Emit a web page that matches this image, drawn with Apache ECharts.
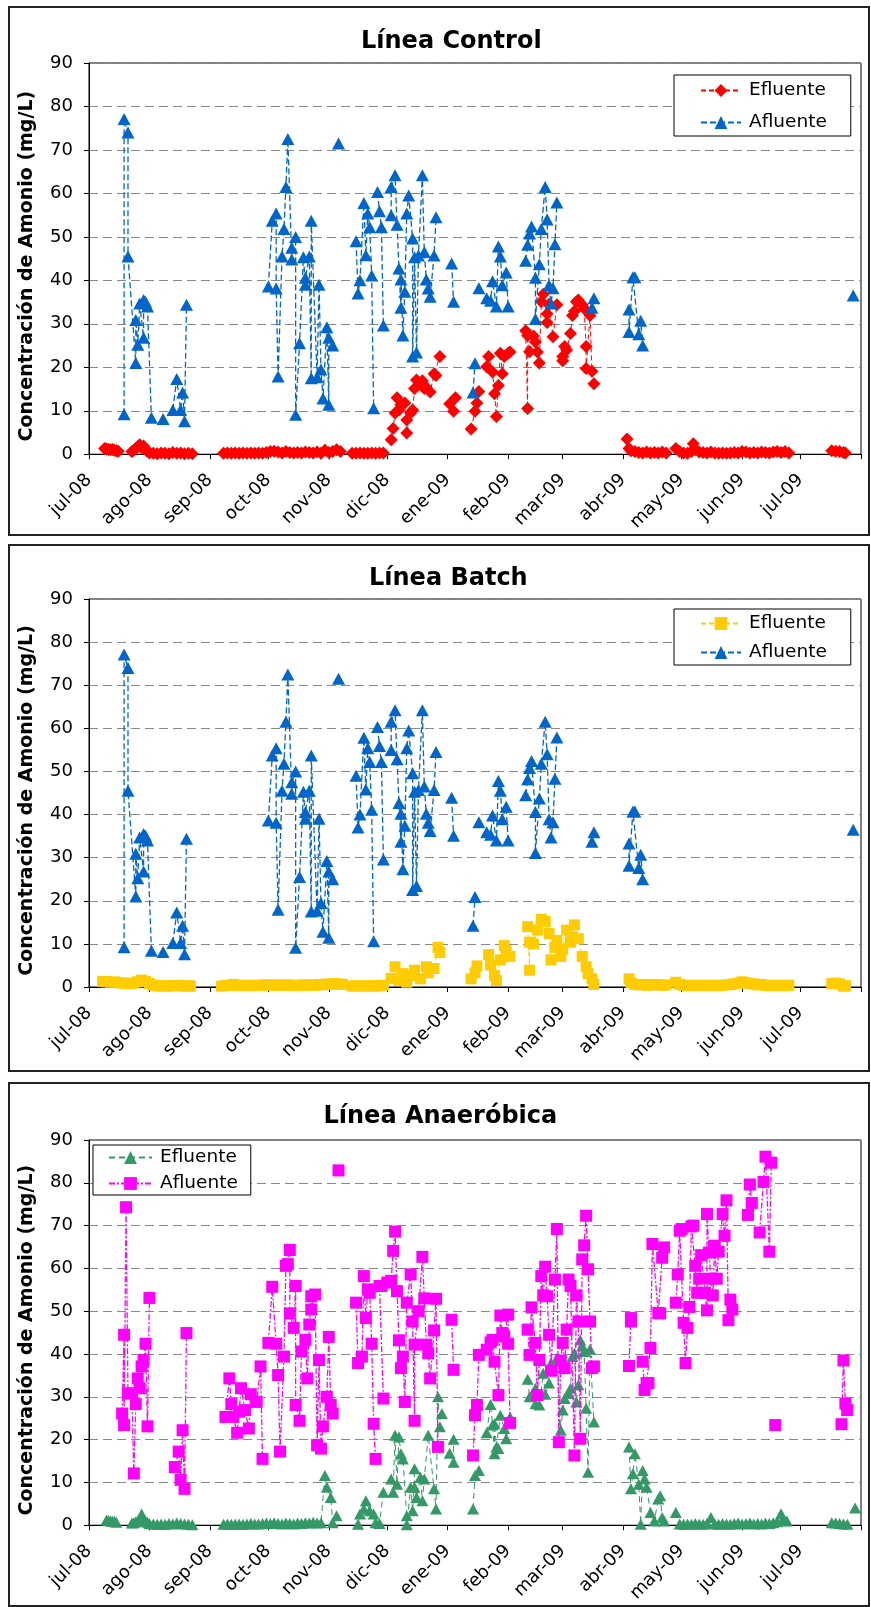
<!DOCTYPE html>
<html><head><meta charset="utf-8">
<script src="https://cdn.jsdelivr.net/npm/echarts@6/dist/echarts.min.js"></script>
<style>
body{margin:0;background:#fff;width:871px;height:1607px;position:relative;overflow:hidden}
.panel{position:absolute;left:8px;width:862px;box-sizing:border-box;border:2px solid #222;background:#fff}
</style></head><body>
<div id="p1" class="panel" style="top:6px;height:530px"></div>
<div id="p2" class="panel" style="top:544px;height:528px"></div>
<div id="p3" class="panel" style="top:1082px;height:525px"></div>
<script>
// x values are days counted from 2008-07-01 (the left end of the date axis); null = gap in the line
const X_TICK_LABELS = ['jul-08','ago-08','sep-08','oct-08','nov-08','dic-08','ene-09','feb-09','mar-09','abr-09','may-09','jun-09','jul-09'];
const Y_TICKS = [0,10,20,30,40,50,60,70,80,90];
const TITLES = ['Línea Control','Línea Batch','Línea Anaeróbica'];
const SERIES_NAMES = ['Efluente','Afluente'];

const afluenteControlBatch = [
 [18,9.2],[18,77.1],[20,74],[20,45.5],[24,21.0],[24,30.9],[25,25.2],[26,34.7],[28,26.8],[28,35.5],[29,35.1],[30,34.0],[32,8.4],null,
 [38,8.1],null,
 [43,10.2],[45,17.3],[47,10.2],[48,14.2],[49,7.6],[50,34.4],null,
 [92,38.6],[94,53.7],[96,55.4],[96,38.1],[97,17.9],[99,45.5],[100,51.8],[101,61.5],[102,72.5],[104,44.8],[104,47.5],[106,50.0],[106,9.1],[108,25.5],[110,45.3],[111,39.0],[111,40.6],[113,45.5],[114,17.5],[114,53.7],[117,17.7],[118,39.0],[119,19.5],[120,12.8],[122,29.2],[123,11.4],[123,26.8],[125,25.0],null,
 [128,71.5],null,
 [137,49.0],[138,37.0],[139,40.0],[141,57.8],[142,45.8],[143,55.4],[144,52.2],[145,41.1],[146,10.6],null,
 [148,60.3],[149,55.9],[150,52.2],[151,29.6],null,
 [155,55.0],[155,61.5],[157,64.2],[158,52.8],[159,42.7],[160,33.7],[160,40.2],[161,27.3],[162,37.4],[163,55.4],[164,59.5],[166,49.6],[166,22.5],[167,45.3],[168,23.4],[169,45.7],[171,64.2],[172,46.5],[173,40.2],[174,38.1],[175,36.2],[177,45.7],[178,54.5],null,
 [186,43.9],[187,35.1],null,
 [197,14.2],[198,20.9],null,[200,38.2],null,
 [204,35.9],[206,35.3],[207,39.8],[209,34.0],[210,47.8],[211,45.5],[212,38.9],[214,41.8],[215,34.0],null,
 [224,44.5],[225,48.2],[226,50.8],[227,52.4],[229,40.6],[229,31.1],[231,43.7],[232,51.8],[234,61.5],[235,54.0],[236,38.9],[237,34.7],[238,38.2],[239,48.3],[240,57.9],null,
 [258,33.7],[259,35.9],null,
 [277,33.3],[277,28.1],[279,40.7],[280,40.7],[282,27.6],[283,30.7],[284,25.0],null,
 [392,36.5]
];

const controlEfluente = [
 [8,1.3],[9,1.2],[10,1.1],[11,1.0],[12,1.1],[13,0.9],[14,0.8],[15,0.7],null,
 [22,0.6],[23,0.9],[24,1.3],[25,1.7],[26,2.2],[27,1.5],[28,1.9],[29,1.2],[30,0.6],[31,0.3],[33,0.2],[35,0.1],[37,0.3],[39,0.2],[41,0.1],[43,0.4],[45,0.2],[47,0.3],[49,0.1],[51,0.2],[53,0.1],null,
 [69,0.2],[71,0.3],[73,0.2],[75,0.3],[77,0.2],[79,0.3],[81,0.2],[83,0.3],[85,0.2],[87,0.3],[89,0.2],[91,0.4],[93,0.6],[95,0.7],[97,0.5],[99,0.3],[101,0.6],[103,0.4],[105,0.3],[107,0.4],[109,0.3],[111,0.5],[113,0.4],[115,0.3],[117,0.5],[119,0.2],[121,0.9],[123,0.4],[125,0.6],[127,1.0],[129,0.6],null,
 [135,0.2],[137,0.2],[139,0.3],[141,0.2],[143,0.2],[145,0.3],[147,0.2],[149,0.3],[151,0.3],null,
 [155,3.3],[156,5.9],[157,9.5],[158,13.0],[159,10.2],[160,11.4],[162,11.8],[163,7.9],[163,4.9],[165,9.5],[166,10.2],[167,15.1],[168,17.1],[170,16.3],[171,16.9],[172,15.1],[173,15.4],[175,14.3],[177,18.5],[178,18.1],[180,22.5],null,
 [185,11.6],[187,9.9],[188,13.0],null,
 [196,5.8],[198,9.9],[199,11.8],[200,14.4],null,
 [204,20.1],[205,22.5],[207,18.9],[208,13.9],[209,8.7],[210,15.8],[211,23.2],[212,18.5],[213,22.5],[215,23.2],[216,23.5],null,
 [224,28.4],[225,10.5],[225,27.3],[226,23.6],[228,27.2],[229,25.8],[230,23.5],[231,21.0],[232,35.1],[233,36.8],[235,30.3],[235,32.3],[236,34.5],[238,27.0],[240,34.4],null,
 [243,21.5],[243,22.5],[244,24.8],[245,24.0],[247,27.8],[248,31.9],[249,32.9],[250,35.1],[251,35.5],[253,34.4],[254,33.5],[255,24.8],[255,19.7],[257,31.9],[258,19.1],[259,16.2],null,
 [276,3.5],[277,1.3],[278,0.8],[280,0.6],[282,0.4],[284,0.3],[286,0.5],[288,0.3],[290,0.4],[292,0.3],[294,0.5],[296,0.3],null,
 [301,1.3],[303,0.6],[305,0.3],[307,0.2],[309,0.6],[310,2.4],[311,1.0],[313,0.5],[315,0.4],[317,0.3],[319,0.5],[321,0.3],[323,0.2],[325,0.3],[327,0.2],[329,0.3],[331,0.4],[333,0.3],[335,0.6],[337,0.5],[339,0.3],[341,0.4],[343,0.3],[345,0.5],[347,0.4],[349,0.3],[351,0.5],[353,0.6],[355,0.4],[357,0.6],[359,0.3],null,
 [381,0.8],[383,0.7],[385,0.6],[387,0.4],[388,0.3]
];

const batchEfluente = [
 [7,1.3],[9,1.2],[11,1.1],[13,1.2],[15,1.0],[17,0.9],[19,0.9],[21,0.8],[23,0.9],[25,1.2],[27,1.6],[29,1.3],[31,0.8],[33,0.4],[35,0.3],[37,0.2],[39,0.3],[41,0.2],[43,0.3],[45,0.4],[47,0.3],[49,0.2],[51,0.3],[52,0.2],null,
 [68,0.2],[70,0.3],[72,0.4],[74,0.6],[76,0.4],[78,0.3],[80,0.4],[82,0.3],[84,0.4],[86,0.3],[88,0.4],[90,0.5],[92,0.4],[94,0.5],[96,0.4],[98,0.5],[100,0.4],[102,0.5],[104,0.4],[106,0.3],[108,0.4],[110,0.5],[112,0.4],[114,0.5],[116,0.4],[118,0.6],[120,0.5],[122,0.7],[124,0.6],[126,0.8],[128,0.7],[130,0.6],null,
 [135,0.2],[137,0.3],[139,0.2],[141,0.3],[143,0.2],[145,0.3],[147,0.2],[149,0.3],[151,0.4],null,
 [155,2.0],[157,4.7],[159,1.5],[161,3.1],[163,1.1],[166,2.7],[167,3.9],[170,1.9],[173,4.7],[174,3.3],[177,4.3],[179,9.2],[180,8.0],null,
 [196,1.9],[198,3.3],[199,4.9],null,
 [205,7.5],[206,5.1],[208,2.7],[209,1.5],[211,6.3],[213,9.6],[214,8.4],[216,7.1],null,
 [225,14.0],[226,3.9],[226,10.4],[228,10.0],[230,13.2],[232,15.7],[234,15.2],[236,12.4],[237,6.3],[239,9.2],[240,10.8],[242,7.1],[243,8.8],[245,13.2],[247,10.4],[248,11.6],[249,14.4],[251,11.2],[253,7.1],[255,4.7],[256,3.1],[258,1.9],[259,0.6],null,
 [277,1.9],[278,1.0],[280,0.6],[282,0.5],[284,0.6],[286,0.4],[288,0.5],[290,0.6],[292,0.5],[294,0.4],[296,0.5],null,
 [301,1.1],[303,0.6],[305,0.4],[307,0.3],[309,0.4],[311,0.3],[313,0.4],[315,0.3],[317,0.4],[319,0.3],[321,0.4],[323,0.3],[325,0.4],[327,0.5],[329,0.6],[331,0.7],[333,0.9],[335,1.2],[337,1.0],[339,0.8],[341,0.7],[343,0.5],[345,0.6],[347,0.4],[349,0.3],[351,0.4],[353,0.3],[355,0.4],[357,0.3],[359,0.4],null,
 [381,0.8],[383,0.9],[385,0.7],[387,0.2],[388,0.3]
];

const anaerobicaEfluente = [
 [9,1.2],[10,1.1],[11,1.0],[12,0.9],[13,0.9],[14,0.7],null,
 [22,0.5],[23,0.6],[24,0.8],[25,1.0],[26,1.5],[27,2.6],[28,1.4],[29,0.9],[30,0.7],[31,0.4],[33,0.3],[35,0.2],[37,0.3],[39,0.2],[41,0.4],[43,0.3],[45,0.5],[47,0.4],[49,0.3],[51,0.2],[53,0.1],null,
 [69,0.2],[71,0.3],[73,0.2],[75,0.3],[77,0.3],[79,0.2],[81,0.3],[83,0.4],[85,0.3],[87,0.3],[89,0.4],[91,0.5],[93,0.4],[95,0.6],[97,0.4],[99,0.3],[101,0.5],[103,0.4],[105,0.3],[107,0.5],[109,0.4],[111,0.6],[113,0.5],[115,0.7],[117,0.5],[119,0.6],[121,11.6],[122,8.9],[124,6.5],[125,0.6],[127,2.2],null,
 [138,0.2],[139,2.6],[141,3.8],[142,5.7],[144,3.4],[146,2.6],[147,0.6],[149,0.4],[151,7.7],null,
 [155,10.8],[156,7.7],[157,21.0],[158,9.6],[159,20.6],[160,16.7],[161,15.5],[163,2.2],[163,0.1],[165,8.9],[166,3.4],[167,13.2],[167,8.9],[168,6.5],[170,11.2],[171,5.7],[172,10.8],[174,21.0],[177,8.5],[178,3.8],[179,30.0],[180,23.0],[181,26.1],null,
 [185,16.8],[187,14.7],[187,20.1],null,
 [197,3.8],[198,11.6],[200,12.8],null,
 [204,21.6],[206,28.2],[207,23.4],[208,16.7],[208,23.7],[209,18.3],[210,17.9],[211,25.7],[213,22.6],[214,20.2],[216,25.3],null,
 [225,34.1],[226,30.0],[229,32.0],[229,28.4],[231,28.1],[233,35.5],[234,30.6],[236,33.2],[237,37.9],[238,36.7],[240,39.0],[242,22.2],[243,26.9],[244,29.6],[246,30.8],[247,32.0],[248,39.4],[249,40.2],[250,28.8],[251,32.8],[252,43.3],[253,41.9],[254,40.6],[255,27.3],[256,12.4],[257,41.1],[259,24.1],null,
 [277,18.3],[278,8.5],[279,12.0],[280,16.7],[282,9.6],[283,0.2],[284,12.8],[285,10.8],[286,8.9],[288,3.0],[290,1.0],[292,6.1],[293,6.9],[294,1.8],[295,1.0],null,
 [301,3.0],[303,0.3],[305,0.2],[307,0.3],[309,0.2],[311,0.4],[313,0.3],[315,0.2],[317,0.4],[319,1.8],[321,0.3],[323,0.2],[325,0.4],[327,0.3],[329,0.2],[331,0.4],[333,0.5],[335,0.3],[337,0.4],[339,0.5],[341,0.3],[343,0.4],[345,0.3],[347,0.5],[349,0.4],[351,0.6],[353,0.8],[355,2.7],[356,1.4],[358,1.0],null,
 [381,0.6],[383,0.5],[385,0.4],[387,0.3],[389,0.2],null,
 [393,4.0]
];

const anaerobicaAfluente = [
 [17,26.1],[18,44.5],[18,23.4],[19,74.3],[20,30.8],[22,30.8],[23,12.1],[24,28.3],[25,34.3],[26,32.0],[27,37.1],[28,38.6],[29,42.4],[30,23.1],[31,53.1],null,
 [44,13.6],[46,17.2],[47,10.6],[48,22.2],[49,8.5],[50,44.9],null,
 [70,25.3],[72,34.3],[73,28.3],[74,25.3],[76,21.6],[77,26.5],[78,32.0],[80,26.9],[82,22.6],[83,30.6],[86,28.8],[88,37.1],[89,15.5],null,
 [92,42.6],[94,55.7],[96,42.4],[97,35.1],[98,17.2],[100,39.4],[101,60.6],[102,61.0],[103,64.3],[103,49.5],[105,46.1],[106,55.9],[106,28.1],[108,24.4],[109,40.6],[111,43.3],[112,34.3],[113,46.9],[114,53.5],[114,50.4],[116,53.9],[117,18.7],[118,38.6],[119,17.9],[120,23.1],[122,30.0],[123,44.0],[124,28.1],[125,26.1],null,
 [128,82.9],null,
 [137,52.0],[138,37.9],[140,39.4],[141,58.2],[142,48.4],[143,55.1],[144,54.3],[145,42.4],[146,23.7],[147,15.5],null,
 [149,55.9],[150,55.9],[151,29.6],null,
 [153,56.7],[155,57.1],[156,64.1],[157,68.6],[158,54.7],[159,43.2],[160,36.7],[161,39.4],[162,28.8],[163,52.0],[165,58.6],[166,47.6],[167,24.4],[167,42.2],[169,50.0],[171,62.7],[172,53.0],[173,42.2],[174,40.2],[175,34.3],[177,45.5],[178,52.9],[179,18.3],null,
 [186,48.0],[187,36.3],null,
 [197,16.3],[198,25.7],[199,28.1],[200,39.8],null,
 [204,41.0],[206,42.7],[207,43.3],[208,38.2],[210,30.4],[211,49.0],[212,44.9],[213,44.1],[215,49.2],[215,42.4],[216,23.9],null,
 [225,45.7],[226,39.8],[227,50.9],[229,42.6],[230,30.4],[231,38.6],[232,58.2],[233,53.7],[234,60.4],[235,53.5],[236,44.5],[237,36.1],[239,57.4],[240,69.2],[241,19.4],[242,38.5],[243,42.6],[244,36.7],[245,45.7],[246,57.4],[247,55.9],[249,16.3],[250,53.7],[251,47.6],[252,20.2],[253,62.1],[254,65.4],[255,72.3],[256,59.8],[257,47.6],[258,36.7],[259,37.1],null,
 [277,37.2],[278,48.4],[278,47.6],null,
 [284,38.2],[285,31.6],[286,33.2],[287,33.2],[288,41.4],[289,65.7],[292,49.6],[293,49.5],[294,62.5],[295,64.9],null,
 [301,52.0],[302,58.6],[303,68.8],[304,69.2],[305,47.3],[306,37.9],[307,46.1],[308,51.0],[309,69.8],[310,70.0],[311,60.6],[312,54.3],[313,57.6],[314,63.1],[316,54.3],[317,50.2],[317,72.7],[318,63.7],[319,57.6],[320,53.7],[321,65.3],[322,57.6],[323,63.9],[325,72.7],[326,67.6],[327,75.9],[328,47.9],[329,52.7],[330,50.4],null,
 [338,72.5],[339,79.6],[340,75.3],null,
 [344,68.4],[346,80.2],[347,86.1],[349,63.9],[350,84.7],null,
 [352,23.4],null,
 [386,23.6],[387,38.5],[388,28.4],[389,26.9]
];

const FONT = 'DejaVu Sans';
const DAY = 864e5;
const ORIGIN = new Date(2008, 6, 1).getTime();
// month boundaries (jul-08 .. ago-09) expressed as day offsets from the origin
const MONTH_TICKS = Array.from({ length: X_TICK_LABELS.length + 1 }, (_, i) => Math.round((new Date(2008, 6 + i, 1).getTime() - ORIGIN) / DAY));
const X_MIN = MONTH_TICKS[0];
const X_MAX = MONTH_TICKS[MONTH_TICKS.length - 1];

function toSeriesData(arr) {
  const out = []; let last = X_MIN;
  arr.forEach(p => {
    if (p === null) { out.push([last, '-']); }
    else { last = p[0]; out.push([p[0], p[1]]); }
  });
  return out;
}
function labelFor(v) {
  const i = MONTH_TICKS.indexOf(Math.round(v));
  return i >= 0 && i < X_TICK_LABELS.length ? X_TICK_LABELS[i] : '';
}

function makeOption(cfg) {
  return {
    animation: false,
    backgroundColor: '#fff',
    title: {
      text: cfg.title, left: cfg.titleLeft, top: cfg.titleTop, padding: 0,
      textStyle: { fontFamily: FONT, fontSize: 24, fontWeight: 'bold', color: '#000' }
    },
    legend: Object.assign({
      orient: 'vertical', data: SERIES_NAMES,
      backgroundColor: '#fff', borderColor: '#000', borderWidth: 1, borderRadius: 0,
      itemWidth: 40, itemHeight: 16,
      textStyle: { fontFamily: FONT, fontSize: 18.5, color: '#000', padding: [0, 0, 0, 3] },
      selectedMode: false
    }, cfg.legend),
    grid: { left: 78.3, top: cfg.gridTop, width: 772.7, height: cfg.gridHeight, show: true, borderColor: '#000', borderWidth: 1, containLabel: false },
    xAxis: {
      type: 'value', min: X_MIN, max: X_MAX,
      axisLine: { show: true, onZero: false, lineStyle: { color: '#000', width: 1 } },
      axisTick: { show: true, length: 5, lineStyle: { color: '#000' }, customValues: MONTH_TICKS },
      axisLabel: {
        rotate: 45, margin: 23, fontFamily: FONT, fontSize: 18, color: '#000',
        customValues: MONTH_TICKS.slice(0, X_TICK_LABELS.length),
        formatter: labelFor, hideOverlap: false
      },
      splitLine: { show: false }
    },
    yAxis: {
      type: 'value', min: 0, max: 90, interval: 10,
      name: 'Concentración de Amonio (mg/L)', nameLocation: 'middle', nameGap: 52,
      nameTextStyle: { fontFamily: FONT, fontSize: 19, fontWeight: 'bold', color: '#000', padding: [0, 15, 0, 0] },
      axisLine: { show: true, lineStyle: { color: '#000', width: 1 } },
      axisTick: { show: true, length: 5, lineStyle: { color: '#000' } },
      axisLabel: { margin: 16, fontFamily: FONT, fontSize: 18, color: '#000', formatter: v => Y_TICKS.includes(v) ? String(v) : '' },
      splitLine: { show: true, lineStyle: { color: '#888', type: [9, 5], width: 1 } }
    },
    series: cfg.series.map(s => ({
      name: s.name, type: 'line', data: toSeriesData(s.data),
      symbol: s.symbol, symbolSize: s.size, showSymbol: true, showAllSymbol: true,
      connectNulls: false, z: s.z,
      itemStyle: { color: s.color, borderWidth: 0 },
      lineStyle: { color: s.color, width: s.width, type: s.dash },
      emphasis: { disabled: true }
    }))
  };
}

const RED = '#FF0000', BLUE = '#0066CC', YELLOW = '#FFCC00', MAGENTA = '#FF00FF', GREEN = '#339966';
const blueSeries = { name: 'Afluente', data: afluenteControlBatch, symbol: 'triangle', size: [13, 12], color: BLUE, width: 1.3, dash: [6, 3], z: 3 };

const configs = [
  { id: 'p1', title: TITLES[0], titleLeft: 351, titleTop: 22, gridTop: 55, gridHeight: 393,
    legend: { left: 664, top: 67, padding: [6, 24, 4, 26], itemGap: 13 },
    series: [
      { name: 'Efluente', data: controlEfluente, symbol: 'diamond', size: [13, 13], color: RED, width: 1, dash: [5, 3], z: 2 },
      blueSeries
    ] },
  { id: 'p2', title: TITLES[1], titleLeft: 359, titleTop: 21, gridTop: 53, gridHeight: 388,
    legend: { left: 664, top: 63, padding: [5, 24, 3, 26], itemGap: 10 },
    series: [
      { name: 'Efluente', data: batchEfluente, symbol: 'rect', size: [11, 11], color: YELLOW, width: 1, dash: [5, 3], z: 2 },
      blueSeries
    ] },
  { id: 'p3', title: TITLES[2], titleLeft: 313.5, titleTop: 21, gridTop: 56, gridHeight: 393,
    legend: { left: 83, top: 61, padding: [3, 13, 2, 15], itemWidth: 43, itemGap: 7 },
    series: [
      { name: 'Efluente', data: anaerobicaEfluente, symbol: 'triangle', size: [12, 11], color: GREEN, width: 1, dash: [6, 4], z: 2 },
      { name: 'Afluente', data: anaerobicaAfluente, symbol: 'rect', size: [12, 12], color: MAGENTA, width: 1.3, dash: [6, 2, 2, 2], z: 3 }
    ] }
];

configs.forEach(cfg => {
  const chart = echarts.init(document.getElementById(cfg.id), null, { renderer: 'canvas' });
  chart.setOption(makeOption(cfg));
});
</script></body></html>
